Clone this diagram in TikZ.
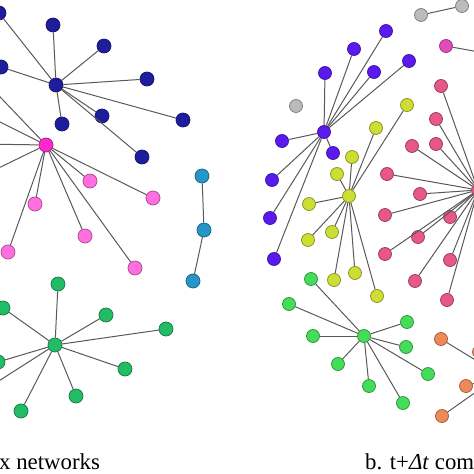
\documentclass[tikz,border=0pt]{standalone}
\usepackage{fontspec}
\setmainfont{Liberation Serif}
\usetikzlibrary{arrows.meta}

\definecolor{cNavy}{HTML}{1E1E9C}
\definecolor{cMagHub}{HTML}{FF2ACD}
\definecolor{cMagLt}{HTML}{FF6FE0}
\definecolor{cTeal}{HTML}{2596C8}
\definecolor{cGrnA}{HTML}{22BB66}
\definecolor{cViolet}{HTML}{5A1AEE}
\definecolor{cLime}{HTML}{CCDD33}
\definecolor{cRose}{HTML}{E8578A}
\definecolor{cGrnB}{HTML}{44DD5A}
\definecolor{cOrng}{HTML}{EE8A5A}
\definecolor{cGrey}{HTML}{BBBBBB}
\definecolor{cMagR}{HTML}{E04CC0}

\tikzset{
  vx/.style={circle, draw=#1!65!black, fill=#1, minimum size=14pt, inner sep=0pt, line width=0.7pt},
  vs/.style={circle, draw=#1!65!black, fill=#1, minimum size=13pt, inner sep=0pt, line width=0.7pt},
  lk/.style={draw=black!65, line width=1pt},
  lbl/.style={anchor=base west, inner sep=0pt, font=\fontsize{22.8}{27}\selectfont}
}

\begin{document}
\begin{tikzpicture}[x=1pt, y=-1pt]
    \useasboundingbox (0,0) rectangle (474,474);
    \clip (0,0) rectangle (474,474);

    % left: blue star
    \node[vx=cNavy] (b0) at (56,85) {};
    \node[vx=cNavy] (b1) at (-1,13) {};
    \node[vx=cNavy] (b2) at (53,25) {};
    \node[vx=cNavy] (b3) at (104,46) {};
    \node[vx=cNavy] (b4) at (1,67) {};
    \node[vx=cNavy] (b5) at (147,79) {};
    \node[vx=cNavy] (b6) at (102,116) {};
    \node[vx=cNavy] (b7) at (62,124) {};
    \node[vx=cNavy] (b8) at (183,120) {};
    \node[vx=cNavy] (b9) at (142,157) {};

    % left: pink star
    \node[vx=cMagHub] (p0) at (46,145) {};
    \node[vx=cMagLt] (p1) at (90,181) {};
    \node[vx=cMagLt] (p2) at (35,204) {};
    \node[vx=cMagLt] (p3) at (153,198) {};
    \node[vx=cMagLt] (p4) at (85,236) {};
    \node[vx=cMagLt] (p5) at (8,252) {};
    \node[vx=cMagLt] (p6) at (135,268) {};
    \coordinate (p7) at (-20,76);
    \coordinate (p8) at (-20,112);
    \coordinate (p9) at (-20,144);
    \coordinate (p10) at (-20,177);

    % left: teal chain
    \node[vx=cTeal] (t1) at (202,176) {};
    \node[vx=cTeal] (t2) at (204,230) {};
    \node[vx=cTeal] (t3) at (193,281) {};

    % left: green star
    \node[vx=cGrnA] (g0) at (55,345) {};
    \node[vx=cGrnA] (g1) at (58,284) {};
    \node[vx=cGrnA] (g2) at (3,308) {};
    \node[vx=cGrnA] (g3) at (106,315) {};
    \node[vx=cGrnA] (g4) at (166,329) {};
    \node[vx=cGrnA] (g5) at (125,369) {};
    \node[vx=cGrnA] (g6) at (76,396) {};
    \node[vx=cGrnA] (g7) at (21,411) {};
    \node[vx=cGrnA] (g8) at (-2,362) {};
    \coordinate (g9) at (-20,393);

    % right: grey and magenta bits
    \node[vs=cGrey] (y1) at (421,15) {};
    \node[vs=cGrey] (y2) at (462,6) {};
    \node[vs=cGrey] (y3) at (296,106) {};
    \node[vs=cMagR] (m1) at (446,46) {};
    \coordinate (m2) at (490,54);

    % right: violet star
    \node[vs=cViolet] (u0) at (324,132) {};
    \node[vs=cViolet] (u1) at (386,31) {};
    \node[vs=cViolet] (u2) at (354,49) {};
    \node[vs=cViolet] (u3) at (325,73) {};
    \node[vs=cViolet] (u4) at (374,72) {};
    \node[vs=cViolet] (u5) at (409,61) {};
    \node[vs=cViolet] (u6) at (282,141) {};
    \node[vs=cViolet] (u7) at (333,153) {};
    \node[vs=cViolet] (u8) at (272,180) {};
    \node[vs=cViolet] (u9) at (270,218) {};
    \node[vs=cViolet] (u10) at (274,259) {};

    % right: lime star
    \node[vs=cLime] (l0) at (349,196) {};
    \node[vs=cLime] (l1) at (407,105) {};
    \node[vs=cLime] (l2) at (376,128) {};
    \node[vs=cLime] (l3) at (352,157) {};
    \node[vs=cLime] (l4) at (337,174) {};
    \node[vs=cLime] (l5) at (309,204) {};
    \node[vs=cLime] (l6) at (332,232) {};
    \node[vs=cLime] (l7) at (308,240) {};
    \node[vs=cLime] (l8) at (334,280) {};
    \node[vs=cLime] (l9) at (355,273) {};
    \node[vs=cLime] (l10) at (377,296) {};

    % right: rose star
    \node[vs=cRose] (r0) at (478,190) {};
    \node[vs=cRose] (r1) at (441,86) {};
    \node[vs=cRose] (r2) at (436,119) {};
    \node[vs=cRose] (r3) at (412,146) {};
    \node[vs=cRose] (r4) at (436,144) {};
    \node[vs=cRose] (r5) at (387,174) {};
    \node[vs=cRose] (r6) at (420,194) {};
    \node[vs=cRose] (r7) at (385,215) {};
    \node[vs=cRose] (r8) at (450,217) {};
    \node[vs=cRose] (r9) at (418,237) {};
    \node[vs=cRose] (r10) at (385,254) {};
    \node[vs=cRose] (r11) at (450,260) {};
    \node[vs=cRose] (r12) at (415,281) {};
    \node[vs=cRose] (r13) at (447,300) {};

    % right: green star
    \node[vs=cGrnB] (e0) at (364,336) {};
    \node[vs=cGrnB] (e1) at (311,279) {};
    \node[vs=cGrnB] (e2) at (289,304) {};
    \node[vs=cGrnB] (e3) at (313,336) {};
    \node[vs=cGrnB] (e4) at (338,364) {};
    \node[vs=cGrnB] (e5) at (369,386) {};
    \node[vs=cGrnB] (e6) at (403,403) {};
    \node[vs=cGrnB] (e7) at (428,374) {};
    \node[vs=cGrnB] (e8) at (406,347) {};
    \node[vs=cGrnB] (e9) at (407,322) {};

    % right: orange star
    \coordinate (o0) at (500,375);
    \node[vs=cOrng] (o1) at (441,339) {};
    \node[vs=cOrng] (o2) at (479,352) {};
    \node[vs=cOrng] (o3) at (466,386) {};
    \node[vs=cOrng] (o4) at (442,416) {};

    \path[lk] (b0) edge (b1) edge (b2) edge (b3) edge (b4) edge (b5)
                   edge (b6) edge (b7) edge (b8) edge (b9)
              (p0) edge (p1) edge (p2) edge (p3) edge (p4) edge (p5)
                   edge (p6) edge (p7) edge (p8) edge (p9) edge (p10)
              (t1) edge (t2)
              (t2) edge (t3)
              (g0) edge (g1) edge (g2) edge (g3) edge (g4) edge (g5)
                   edge (g6) edge (g7) edge (g8) edge (g9)
              (y1) edge (y2)
              (m1) edge (m2)
              (u0) edge (u1) edge (u2) edge (u3) edge (u4) edge (u5)
                   edge (u6) edge (u7) edge (u8) edge (u9) edge (u10)
              (l0) edge (l1) edge (l2) edge (l3) edge (l4) edge (l5)
                   edge (l6) edge (l7) edge (l8) edge (l9) edge (l10)
              (r0) edge (r1) edge (r2) edge (r3) edge (r4) edge (r5) edge (r6)
                   edge (r7) edge (r8) edge (r9) edge (r10) edge (r11) edge (r12) edge (r13)
              (e0) edge (e1) edge (e2) edge (e3) edge (e4) edge (e5)
                   edge (e6) edge (e7) edge (e8) edge (e9)
              (o0) edge (o1) edge (o3) edge (o4);

    \node[lbl] (capA) at (-1,469) {x networks};
    \node[lbl] (capB) at (365,469) {b. t+\textit{Δt} com};
\end{tikzpicture}
\end{document}
